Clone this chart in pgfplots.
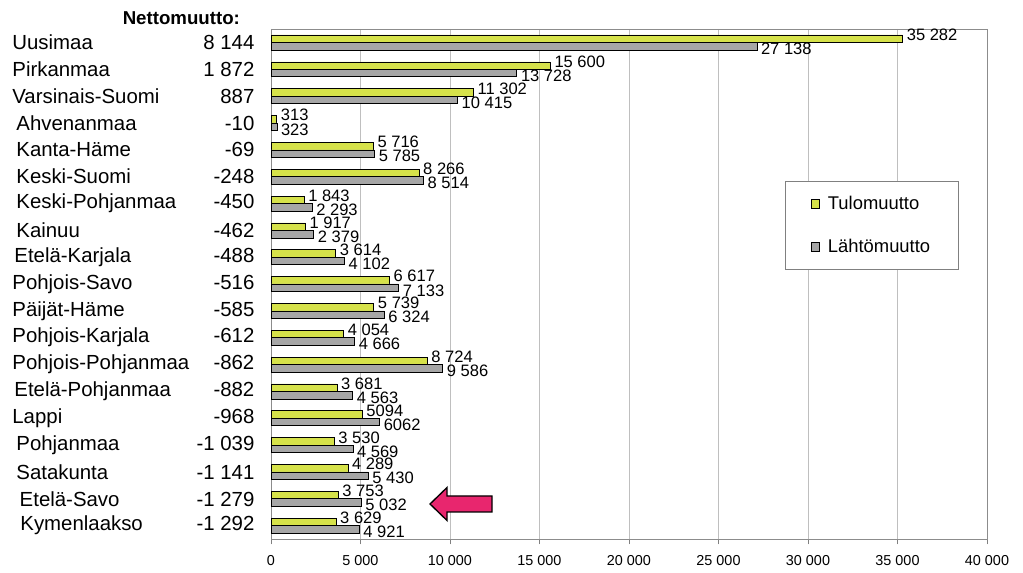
\documentclass[border=0pt]{standalone}
\usepackage{fontspec}
\setmainfont{Liberation Sans}
\usepackage{pgfplots}
\pgfplotsset{compat=1.18}
\definecolor{tulo}{RGB}{214,226,74}
\definecolor{lahto}{RGB}{166,166,166}
\definecolor{arrowpink}{RGB}{232,38,110}
\newcommand{\lab}[3]{\makebox[181.5pt][l]{\hspace*{#1pt}#2\hfill #3}}
\begin{document}
\begin{tikzpicture}
\useasboundingbox (0,0) rectangle (767.25pt,429.75pt);
\begin{axis}[
  at={(203.25pt,25.5pt)}, anchor=south west,
  scale only axis, width=537pt, height=382.5pt,
  xbar, bar width=5.6pt,
  y dir=reverse,
  xmin=0, xmax=40000, ymin=-0.5, ymax=18.5,
  xtick={0,5000,...,40000},
  scaled ticks=false,
  /pgf/number format/1000 sep={\ },
  /pgf/number format/assume math mode=true,
  xticklabel style={font=\fontsize{10.8}{12}\selectfont, yshift=-4.5pt},
  xtick pos=bottom, tick align=outside,
  major tick length=4pt,
  xtick style={draw=black!50},
  ytick={0,...,18},
  ytick style={draw=none},
  yticklabels={
    \lab{0}{Uusimaa}{8 144},
    \lab{0}{Pirkanmaa}{1 872},
    \lab{0}{Varsinais-Suomi}{887},
    \lab{3}{Ahvenanmaa}{-10},
    \lab{3}{Kanta-Häme}{-69},
    \lab{3}{Keski-Suomi}{-248},
    \lab{3}{Keski-Pohjanmaa}{-450},
    \lab{3}{Kainuu}{-462},
    \lab{1.5}{Etelä-Karjala}{-488},
    \lab{0}{Pohjois-Savo}{-516},
    \lab{0}{Päijät-Häme}{-585},
    \lab{0}{Pohjois-Karjala}{-612},
    \lab{0}{Pohjois-Pohjanmaa}{-862},
    \lab{1.5}{Etelä-Pohjanmaa}{-882},
    \lab{0}{Lappi}{-968},
    \lab{3}{Pohjanmaa}{-1 039},
    \lab{3}{Satakunta}{-1 141},
    \lab{5.5}{Etelä-Savo}{-1 279},
    \lab{6}{Kymenlaakso}{-1 292}},
  yticklabel style={anchor=east, inner sep=0pt, xshift=-8.25pt, font=\fontsize{15.3}{18}\selectfont},
  xmajorgrids, grid style={draw=black!25},
  axis line style={draw=black!45},
  point meta=explicit symbolic,
  nodes near coords,
  legend style={at={(0.718,0.702)}, anchor=north west, draw=black!50,
    font=\fontsize{13.8}{16}\selectfont, inner xsep=19pt, inner ysep=9pt,
    row sep=17pt, column sep=4pt, legend cell align=left},
  legend image code/.code={\draw[#1,draw=black] (0pt,-3.25pt) rectangle (6.5pt,3.25pt);},
]
\addplot[fill=tulo, draw=black, bar shift=2.8pt,
  nodes near coords style={anchor=west, inner sep=0pt, xshift=3pt, yshift=3pt, font=\fontsize{12.4}{14}\selectfont}]
coordinates {
(35282,0) [35 282]
(15600,1) [15 600]
(11302,2) [11 302]
(313,3) [313]
(5716,4) [5 716]
(8266,5) [8 266]
(1843,6) [1 843]
(1917,7) [1 917]
(3614,8) [3 614]
(6617,9) [6 617]
(5739,10) [5 739]
(4054,11) [4 054]
(8724,12) [8 724]
(3681,13) [3 681]
(5094,14) [5094]
(3530,15) [3 530]
(4289,16) [4 289]
(3753,17) [3 753]
(3629,18) [3 629]
};
\addlegendentry{Tulomuutto}
\addplot[fill=lahto, draw=black, bar shift=-2.8pt,
  nodes near coords style={anchor=west, inner sep=0pt, xshift=3pt, yshift=-2pt, font=\fontsize{12.4}{14}\selectfont}]
coordinates {
(27138,0) [27 138]
(13728,1) [13 728]
(10415,2) [10 415]
(323,3) [323]
(5785,4) [5 785]
(8514,5) [8 514]
(2293,6) [2 293]
(2379,7) [2 379]
(4102,8) [4 102]
(7133,9) [7 133]
(6324,10) [6 324]
(4666,11) [4 666]
(9586,12) [9 586]
(4563,13) [4 563]
(6062,14) [6062]
(4569,15) [4 569]
(5430,16) [5 430]
(5032,17) [5 032]
(4921,18) [4 921]
};
\addlegendentry{Lähtömuutto}
\end{axis}
\node[font=\bfseries\fontsize{14}{16}\selectfont, anchor=base] at (136pt,411pt) {Nettomuutto:};
\draw[fill=arrowpink, draw=black, line width=1pt, line join=miter]
  (322.5pt,51.75pt) -- (335.25pt,64.1pt) -- (335.25pt,57.75pt) -- (369pt,57.75pt)
  -- (369pt,45.75pt) -- (335.25pt,45.75pt) -- (335.25pt,39.4pt) -- cycle;
\end{tikzpicture}
\end{document}
